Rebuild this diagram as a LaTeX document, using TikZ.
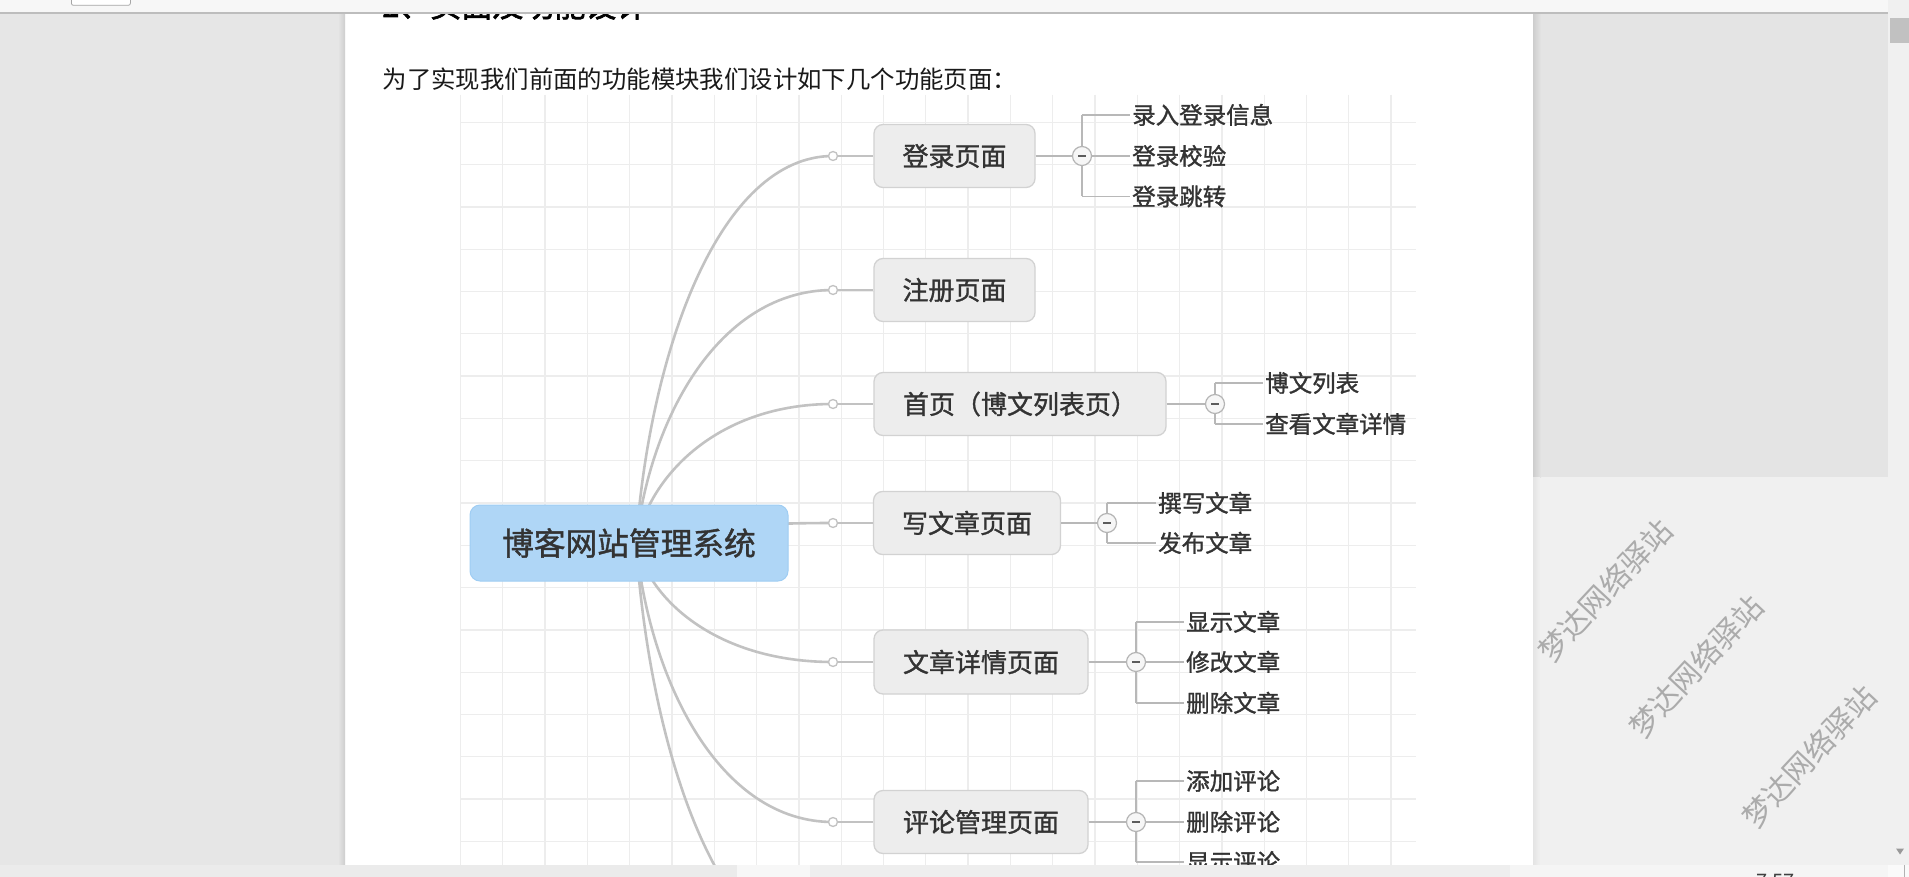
\documentclass[tikz,border=0pt]{standalone}
\usepackage{fontspec}
\newfontfamily\cjk{Noto Sans CJK SC}
\newfontfamily\cjkm[FakeBold=1.2]{Noto Sans CJK SC}
\newfontfamily\cjkb[FakeBold=2]{Noto Sans CJK SC}
\definecolor{leftgray}{HTML}{E6E6E6}
\definecolor{rgray}{HTML}{E4E4E4}
\definecolor{wmbg}{HTML}{F0F0F0}
\definecolor{scrollbg}{HTML}{F0F0F0}
\definecolor{toolbarc}{HTML}{F7F7F7}
\definecolor{toollinec}{HTML}{BDBDBD}
\definecolor{gridc}{HTML}{EDEDED}
\definecolor{curvec}{HTML}{C2C2C2}
\definecolor{twigc}{HTML}{B8B8B8}
\definecolor{boxfill}{HTML}{EDEDED}
\definecolor{boxdraw}{HTML}{D2D2D2}
\definecolor{cblue}{HTML}{AFD6F6}
\definecolor{cbluedraw}{HTML}{9FCDF3}
\definecolor{txt}{HTML}{333333}
\definecolor{wmc}{HTML}{ABABAB}
\definecolor{thumbc}{HTML}{C1C1C1}
\definecolor{shadowc}{HTML}{CDCDCD}
\definecolor{minusfill}{HTML}{F6F6F6}
\definecolor{minusdraw}{HTML}{B5B5B5}
\tikzset{
  gridline/.style={draw=gridc, line width=1.3pt},
  curve/.style={draw=curvec, line width=2.6pt},
  stem/.style={draw=curvec, line width=2.4pt},
  twig/.style={draw=twigc, line width=1.4pt},
  centerbox/.style={rounded corners=10pt, fill=cblue, draw=cbluedraw, line width=1pt,
    minimum width=318pt, minimum height=76pt, inner sep=0pt,
    font=\cjkm\fontsize{31.7pt}{32pt}\selectfont, text=txt},
  branchbox/.style={rounded corners=9pt, fill=boxfill, draw=boxdraw, line width=1.3pt,
    minimum height=63pt, inner sep=0pt,
    font=\cjkm\fontsize{26pt}{26pt}\selectfont, text=txt},
  leaf/.style={anchor=west, inner sep=0pt, text height=18.3pt, text depth=0.5pt,
    font=\cjkm\fontsize{23.5pt}{24pt}\selectfont, text=txt},
  dot/.style={circle, minimum size=9pt, inner sep=0pt, fill=white, draw=curvec, line width=1.3pt},
  minus/.style={circle, minimum size=19pt, inner sep=0pt, fill=minusfill, draw=minusdraw, line width=1.2pt},
  minusbar/.style={draw=txt!80, line width=1.6pt},
  wmark/.style={rotate=47, inner sep=0pt, text=wmc, font=\cjk\fontsize{30pt}{30pt}\selectfont}
}
\begin{document}
\begin{tikzpicture}[x=1pt,y=-1pt]
\useasboundingbox (0,0) rectangle (1909,877);
% backgrounds
\fill[leftgray] (0,0) rectangle (345,877);
\fill[white] (345,0) rectangle (1533,865);
\fill[rgray] (1533,0) rectangle (1888,477);
\fill[wmbg] (1533,477) rectangle (1888,865);
\fill[scrollbg] (1888,0) rectangle (1909,877);
\shade[left color=leftgray, right color=shadowc] (338,13) rectangle (345,865);
\shade[left color=shadowc, right color=rgray] (1533,13) rectangle (1541,477);
\shade[left color=rgray, right color=wmbg] (1533,477) rectangle (1540,865);

% heading and paragraph
\node[anchor=base west, inner sep=0pt, text=black, font=\cjkb\fontsize{31pt}{31pt}\selectfont] (head) at (382,17) {2、页面及功能设计};
\node[anchor=west, inner sep=0pt, text height=18.9pt, text depth=0.5pt, text=black!90, font=\cjk\fontsize{24.4pt}{25pt}\selectfont] (para) at (382.4,79) {为了实现我们前面的功能模块我们设计如下几个功能页面：};

% mind map
\begin{scope}
\clip (460,95) rectangle (1416,865);
\foreach \i in {0,...,22} \draw[gridline] ({460.5+42.3*\i},95) -- ({460.5+42.3*\i},865);
\foreach \j in {0,...,17} \draw[gridline] (460,{122.3+42.3*\j}) -- (1416,{122.3+42.3*\j});

\coordinate (hub) at (636,543);
\coordinate (p1) at (833,156);
\coordinate (p2) at (833,290);
\coordinate (p3) at (833,404);
\coordinate (p4) at (833,523);
\coordinate (p5) at (833,662);
\coordinate (p6) at (833,822);
\coordinate (p7) at (833,960);

\draw[curve] (hub) .. controls (650,349.5) and (720,156) .. (p1);
\draw[curve] (hub) .. controls (650,416.5) and (720,290) .. (p2);
\draw[curve] (hub) .. controls (650,473.5) and (720,404) .. (p3);
\draw[curve] (hub) .. controls (650,533) and (720,523) .. (p4);
\draw[curve] (hub) .. controls (650,602.5) and (720,662) .. (p5);
\draw[curve] (hub) .. controls (650,682.5) and (720,822) .. (p6);
\draw[curve] (hub) .. controls (650,751.5) and (720,960) .. (p7);

\node[centerbox] (root) at (629,543) {博客网站管理系统};

\node[dot] (d1) at (p1) {};
\node[dot] (d2) at (p2) {};
\node[dot] (d3) at (p3) {};
\node[dot] (d4) at (p4) {};
\node[dot] (d5) at (p5) {};
\node[dot] (d6) at (p6) {};

\node[branchbox, minimum width=161pt] (login) at (954.5,156) {登录页面};
\node[branchbox, minimum width=161pt] (reg) at (954.5,290) {注册页面};
\node[branchbox, minimum width=292pt] (home) at (1020,404) {首页（博文列表页）};
\node[branchbox, minimum width=187pt] (write) at (967,523) {写文章页面};
\node[branchbox, minimum width=214pt, minimum height=64pt] (detail) at (981,662) {文章详情页面};
\node[branchbox, minimum width=214pt] (comment) at (981,822) {评论管理页面};

\draw[stem] (d1.east) -- (login.west);
\draw[stem] (d2.east) -- (reg.west);
\draw[stem] (d3.east) -- (home.west);
\draw[stem] (d4.east) -- (write.west);
\draw[stem] (d5.east) -- (detail.west);
\draw[stem] (d6.east) -- (comment.west);

% leaves
\node[leaf] (c11) at (1132,115) {录入登录信息};
\node[leaf] (c12) at (1132,156) {登录校验};
\node[leaf] (c13) at (1132,196.5) {登录跳转};
\node[leaf] (c31) at (1265,383) {博文列表};
\node[leaf] (c32) at (1265,424) {查看文章详情};
\node[leaf] (c41) at (1158,503) {撰写文章};
\node[leaf] (c42) at (1158,543) {发布文章};
\node[leaf] (c51) at (1186,622) {显示文章};
\node[leaf] (c52) at (1186,662) {修改文章};
\node[leaf] (c53) at (1186,703) {删除文章};
\node[leaf] (c61) at (1186,781) {添加评论};
\node[leaf] (c62) at (1186,822) {删除评论};
\node[leaf] (c63) at (1186,862) {显示评论};

\coordinate (m1c) at (1082,156);
\coordinate (m3c) at (1215,404);
\coordinate (m4c) at (1107,523);
\coordinate (m5c) at (1136,662);
\coordinate (m6c) at (1136,822);

% brackets
\draw[twig] (m1c |- c11.west) -- (m1c |- c13.west);
\foreach \c in {c11,c12,c13} \draw[twig] (m1c |- \c.west) -- ([xshift=-2pt]\c.west);
\draw[twig] (m3c |- c31.west) -- (m3c |- c32.west);
\foreach \c in {c31,c32} \draw[twig] (m3c |- \c.west) -- ([xshift=-2pt]\c.west);
\draw[twig] (m4c |- c41.west) -- (m4c |- c42.west);
\foreach \c in {c41,c42} \draw[twig] (m4c |- \c.west) -- ([xshift=-2pt]\c.west);
\draw[twig] (m5c |- c51.west) -- (m5c |- c53.west);
\foreach \c in {c51,c52,c53} \draw[twig] (m5c |- \c.west) -- ([xshift=-2pt]\c.west);
\draw[twig] (m6c |- c61.west) -- (m6c |- c63.west);
\foreach \c in {c61,c62,c63} \draw[twig] (m6c |- \c.west) -- ([xshift=-2pt]\c.west);

\draw[twig] (login.east) -- (m1c);
\draw[twig] (home.east) -- (m3c);
\draw[twig] (write.east) -- (m4c);
\draw[twig] (detail.east) -- (m5c);
\draw[twig] (comment.east) -- (m6c);

\foreach \m in {m1,m3,m4,m5,m6} {
  \node[minus] (\m) at (\m c) {};
  \draw[minusbar] ([xshift=-4pt]\m.center) -- ([xshift=4pt]\m.center);
}
\end{scope}

% watermarks
\node[wmark] (wm1) at (1605,590.7) {梦达网络驿站};
\node[wmark] (wm2) at (1696,666.7) {梦达网络驿站};
\node[wmark] (wm3) at (1809,756.7) {梦达网络驿站};

% toolbar
\fill[toolbarc] (0,0) rectangle (1888,13);
\draw[toollinec, line width=1.2pt] (0,13) -- (1888,13);
\draw[fill=white, draw=black!35, line width=0.8pt, rounded corners=2pt] (71.4,-4) rectangle (130.4,5.3);

% bottom strip
\fill[black!8] (0,865) rectangle (737,877);
\fill[black!3] (737,865) rectangle (810,877);
\fill[black!6.5] (810,865) rectangle (1510,877);
\fill[black!4] (1510,865) rectangle (1888,877);
\fill[black!2] (1888,865) rectangle (1909,877);
\draw[black!30, line width=1pt] (1904.5,865) -- (1904.5,877);
\begin{scope}
\clip (1700,865) rectangle (1850,877);
\node[anchor=base west, inner sep=0pt, text=black!75, font=\cjk\fontsize{20pt}{20pt}\selectfont] (clock) at (1756,888) {7:57};
\end{scope}

% scrollbar
\fill[thumbc] (1890,17.7) rectangle (1909,43.3);
\fill[black!40] (1896,848.5) -- (1904,848.5) -- (1900,854.5) -- cycle;
\end{tikzpicture}
\end{document}
